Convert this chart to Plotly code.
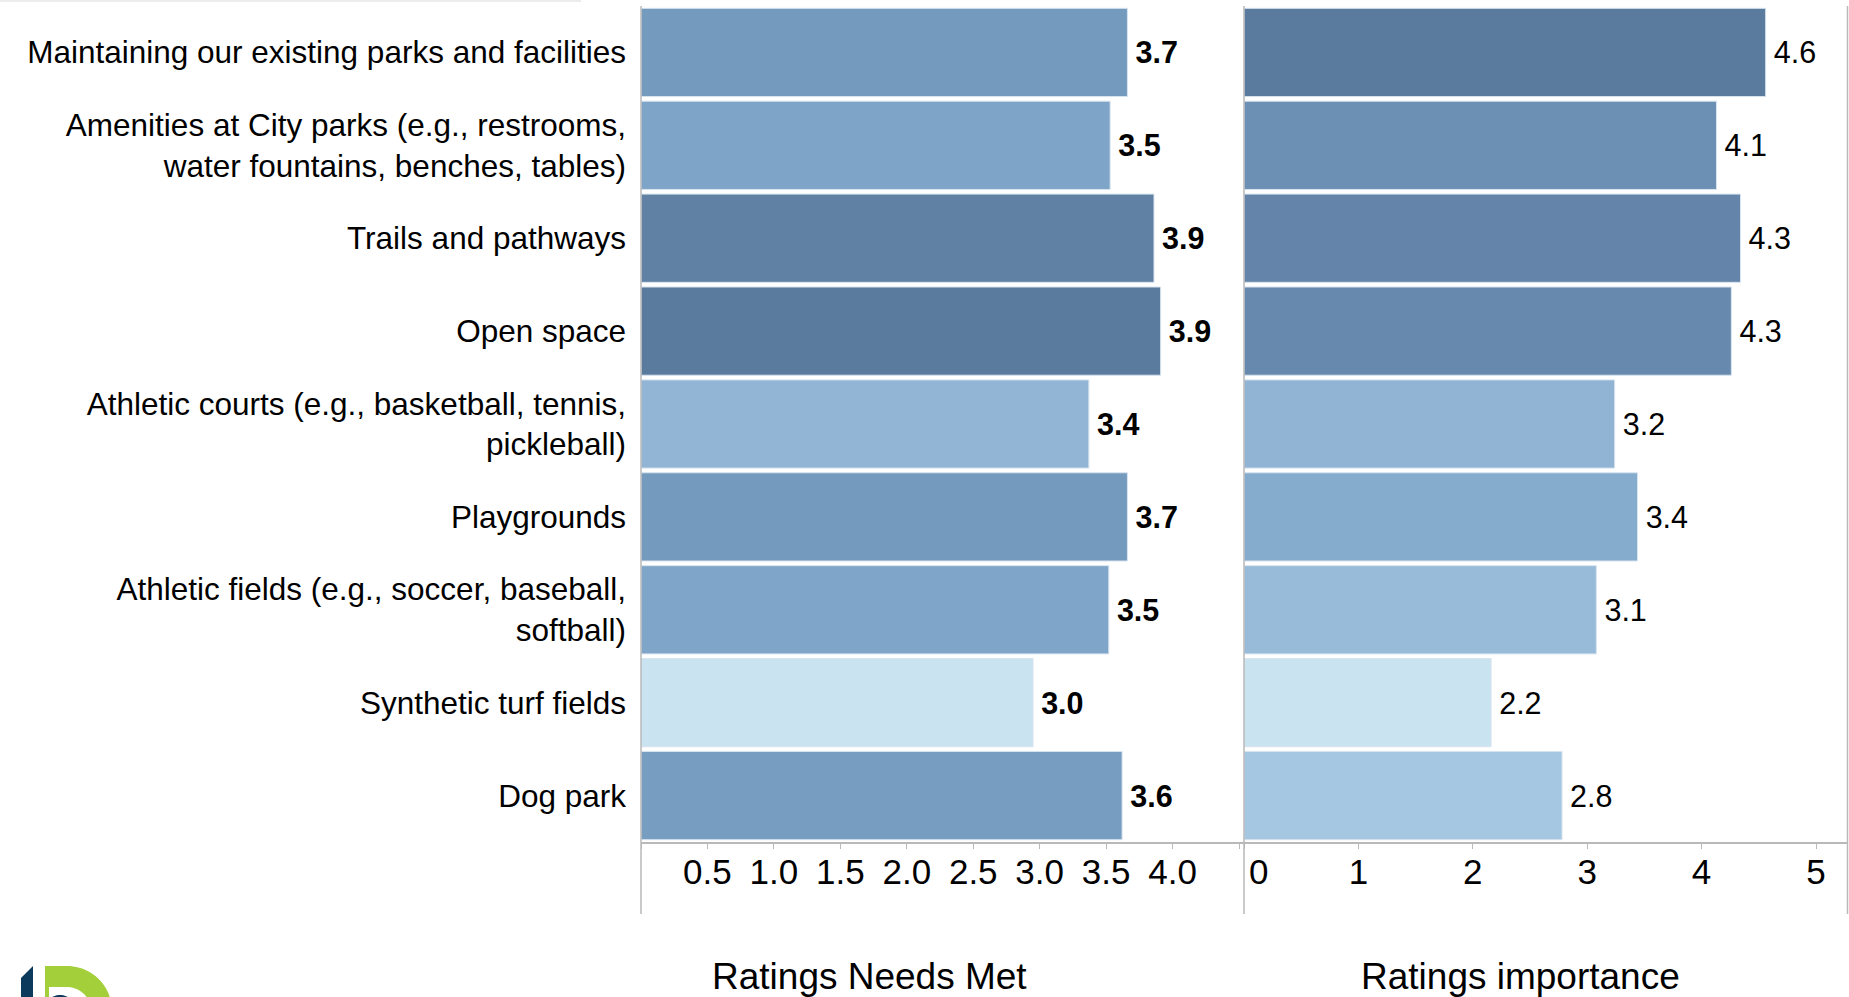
import numpy as np
import plotly.graph_objects as go

# ---- data -------------------------------------------------------------
categories = [
    "Maintaining our existing parks and facilities",
    "Amenities at City parks (e.g., restrooms,<br>water fountains, benches, tables)",
    "Trails and pathways",
    "Open space",
    "Athletic courts (e.g., basketball, tennis,<br>pickleball)",
    "Playgrounds",
    "Athletic fields (e.g., soccer, baseball,<br>softball)",
    "Synthetic turf fields",
    "Dog park",
]
needs_met = [3.66, 3.53, 3.86, 3.91, 3.37, 3.66, 3.52, 2.95, 3.62]
importance = [4.56, 4.13, 4.34, 4.26, 3.24, 3.44, 3.08, 2.16, 2.78]

needs_tickvals = [0, 0.5, 1.0, 1.5, 2.0, 2.5, 3.0, 3.5, 4.0, 4.5]
needs_ticktext = ["", "0.5", "1.0", "1.5", "2.0", "2.5", "3.0", "3.5", "4.0", ""]
imp_tickvals = [0, 1, 2, 3, 4, 5]
imp_ticktext = ["", "1", "2", "3", "4", "5"]

panel_titles = ["Ratings Needs Met", "Ratings importance"]

# ---- layout constants (pixels) ---------------------------------------
FIG_W, FIG_H = 1849, 997
ML, MR, MT, MB = 641, 1, 6, 155
PW = FIG_W - ML - MR
PH = FIG_H - MT - MB
SPLIT = 1244  # boundary between the two panels
FONT = "Liberation Sans, Arial, Helvetica, sans-serif"
AXIS_GREY = "#b9b9b9"
GAP = "\u2006"  # small gap between a bar end and its value


def px(x):
    return (x - ML) / PW


def py(y):
    return (FIG_H - MB - y) / PH


split = px(SPLIT)
needs_max = (SPLIT - ML) / 132.9
imp_max = (FIG_W - MR - SPLIT) / 114.4

blues = [
    [0.0, "#c9e3f1"],
    [0.26, "#a5c7e2"],
    [0.45, "#91b4d4"],
    [0.6, "#7ea5c8"],
    [0.75, "#7399bd"],
    [0.9, "#6586aa"],
    [1.0, "#5a7b9e"],
]

fig = go.Figure()

fig.add_trace(go.Bar(
    x=needs_met, y=categories, orientation="h",
    marker=dict(color=needs_met, colorscale=blues,
                cmin=min(needs_met), cmax=max(needs_met),
                line=dict(color="#d8e4ef", width=1)),
    texttemplate=GAP + "<b>%{x:.1f}</b>", textposition="outside",
    textfont=dict(size=30.5, color="#000000", family=FONT),
    constraintext="none", cliponaxis=False,
    xaxis="x", yaxis="y", hoverinfo="skip", showlegend=False,
))

fig.add_trace(go.Bar(
    x=importance, y=categories, orientation="h",
    marker=dict(color=importance, colorscale=blues,
                cmin=min(importance), cmax=max(importance),
                line=dict(color="#d8e4ef", width=1)),
    texttemplate=GAP + "%{x:.1f}", textposition="outside",
    textfont=dict(size=30.5, color="#000000", family=FONT),
    constraintext="none", cliponaxis=False,
    xaxis="x2", yaxis="y2", hoverinfo="skip", showlegend=False,
))

xcommon = dict(
    showgrid=False, zeroline=False, showline=True,
    linecolor=AXIS_GREY, linewidth=1.5,
    ticks="outside", ticklen=5, tickwidth=1.2, tickcolor=AXIS_GREY,
    ticklabelstandoff=-7,
    tickfont=dict(size=35, color="#000000", family=FONT),
    fixedrange=True,
)

fig.update_layout(
    width=FIG_W, height=FIG_H,
    margin=dict(l=ML, r=MR, t=MT, b=MB, pad=0),
    paper_bgcolor="white", plot_bgcolor="white",
    font=dict(family=FONT, color="#000000"),
    bargap=0.05,
    xaxis=dict(domain=[0, split], range=[0, needs_max],
               tickvals=needs_tickvals, ticktext=needs_ticktext, **xcommon),
    xaxis2=dict(domain=[split, 1], range=[0, imp_max], anchor="y2",
                tickvals=imp_tickvals, ticktext=imp_ticktext, **xcommon),
    yaxis=dict(autorange="reversed", showgrid=False, zeroline=False,
               showline=False, ticks="", ticklabelstandoff=14,
               tickfont=dict(size=31.5, color="#000000", family=FONT),
               fixedrange=True),
    yaxis2=dict(autorange="reversed", anchor="x2", matches="y",
                showgrid=False, zeroline=False, showline=False,
                showticklabels=False, ticks="", fixedrange=True),
)

# zero label of the importance axis sits just right of the panel edge
fig.add_annotation(
    x=0, xref="x2", y=0, yref="paper", text="0", showarrow=False,
    xanchor="left", yanchor="middle", xshift=3, yshift=-29,
    font=dict(size=35, color="#000000", family=FONT),
)

# panel titles
for title, cx in zip(panel_titles, [869, 1520]):
    fig.add_annotation(
        x=px(cx), xref="paper", y=py(976), yref="paper", text=title,
        showarrow=False, xanchor="center", yanchor="middle",
        font=dict(size=37, color="#000000", family=FONT),
    )

# vertical panel rules running down past the axis
for xv in [ML, SPLIT, FIG_W - MR - 0.5]:
    fig.add_shape(type="line", xref="paper", yref="paper",
                  x0=px(xv), x1=px(xv), y0=1, y1=py(914),
                  line=dict(color=AXIS_GREY, width=1.5))

# faint rule across the top left
fig.add_shape(type="line", xref="paper", yref="paper",
              x0=px(0), x1=px(581), y0=py(1), y1=py(1),
              line=dict(color="#ececec", width=2))


# small logo mark in the lower-left corner
def path_from(points):
    pts = [f"{px(x):.5f},{py(y):.5f}" for x, y in points]
    return "M" + " L".join(pts) + " Z"


theta_out = np.linspace(-np.pi / 2, 0, 24)
theta_in = theta_out[::-1]
green_pts = [(45, 1011), (45, 966), (67, 966)]
green_pts += [(67 + 45 * np.cos(t), 1011 + 45 * np.sin(t)) for t in theta_out]
green_pts += [(67 + 24 * np.cos(t), 1011 + 24 * np.sin(t)) for t in theta_in]
green_pts += [(49, 987), (49, 1011)]

theta_bowl = np.linspace(np.pi, 2 * np.pi, 24)
bowl_pts = [(60 + 16 * np.cos(t), 1011 + 16 * np.sin(t)) for t in theta_bowl]

stem_pts = [(21, 978), (33, 966), (33, 1005), (21, 1005)]

for pts, col in [(green_pts, "#a3cf3b"), (bowl_pts, "#0b3a5c"),
                 (stem_pts, "#0b3a5c")]:
    fig.add_shape(type="path", xref="paper", yref="paper",
                  path=path_from(pts), fillcolor=col,
                  line=dict(width=0), layer="above")

fig.write_html("out.html")
